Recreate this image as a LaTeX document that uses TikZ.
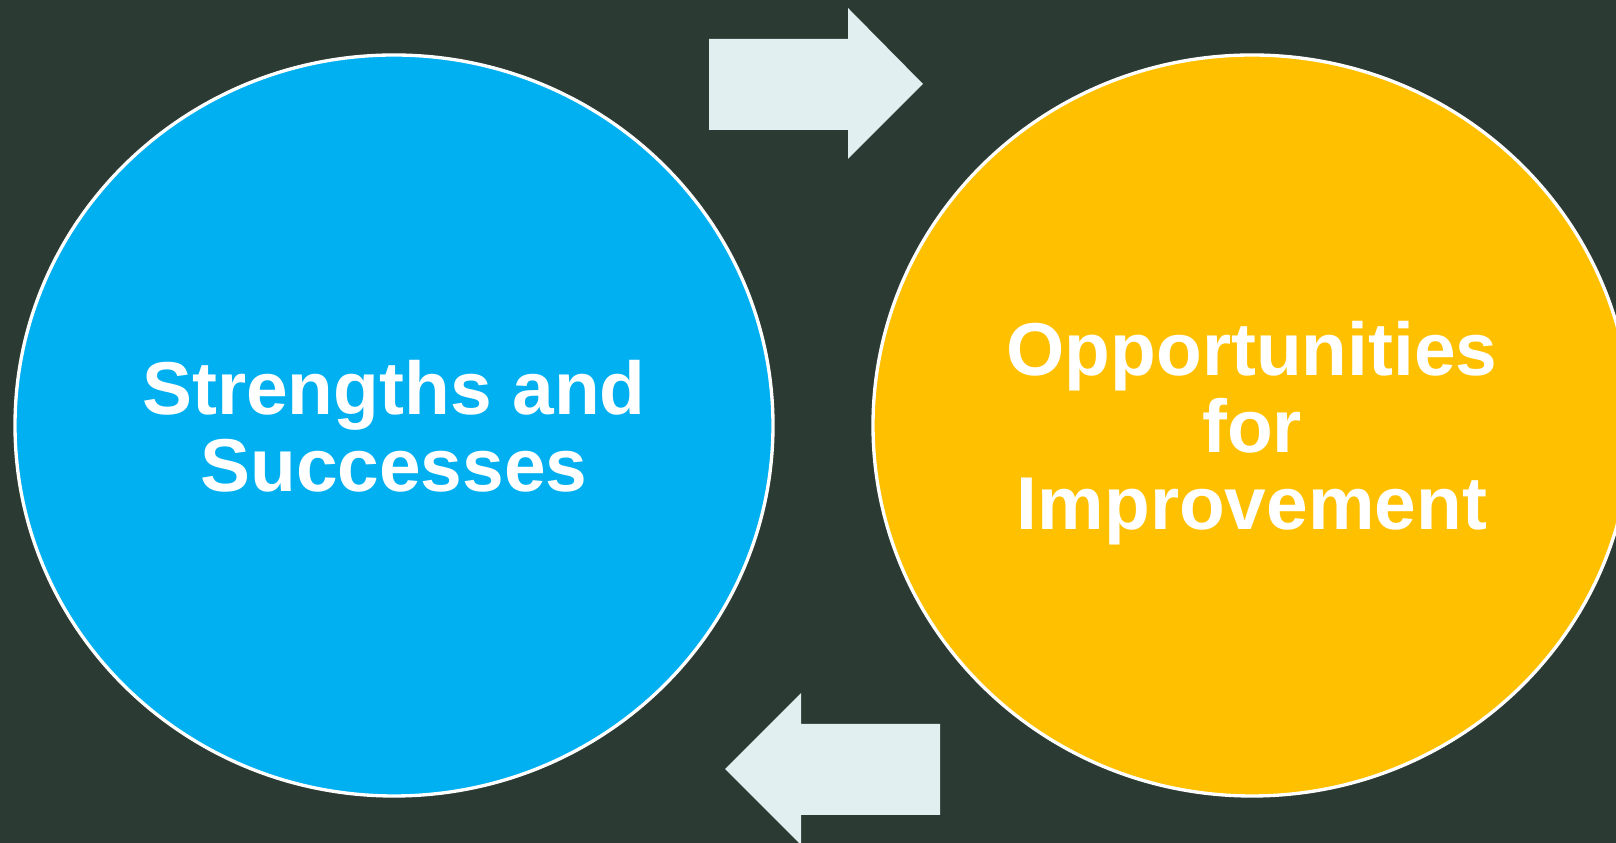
\documentclass[tikz,border=0pt]{standalone}
\usepackage{fontspec}
\setmainfont{Liberation Sans}
\usetikzlibrary{shapes.geometric}
\definecolor{bgdark}{HTML}{2B3A32}
\definecolor{skyblue}{HTML}{00B0F0}
\definecolor{amber}{HTML}{FFC000}
\definecolor{paleblue}{HTML}{E2EFF0}
\tikzset{bubble/.style={ellipse,draw=white,line width=0.95pt,minimum width=7.58cm,minimum height=7.41cm,inner sep=0pt,align=center,text=white,text depth=0pt,font=\bfseries\fontsize{21.3}{21.9}\selectfont}}

\begin{document}
\begin{tikzpicture}[line join=miter]
\useasboundingbox (0,0) rectangle (16.16,8.43);
\fill[bgdark] (0,0) rectangle (16.16,8.43);
% --- the two bubbles
\node[bubble,fill=skyblue] (strengths) at (3.94,4.175) {Strengths and\\Successes};
\node[bubble,fill=amber] (improve) at (12.52,4.175) {Opportunities\\for\\Improvement};
% --- block arrows between them
\fill[paleblue] (7.09,8.04) -- (8.48,8.04) -- (8.48,8.35) -- (9.23,7.59) -- (8.48,6.84) -- (8.48,7.13) -- (7.09,7.13) -- cycle;
\fill[paleblue] (9.40,1.19) -- (8.01,1.19) -- (8.01,1.50) -- (7.25,0.74) -- (8.01,-0.02) -- (8.01,0.28) -- (9.40,0.28) -- cycle;
\end{tikzpicture}
\end{document}
